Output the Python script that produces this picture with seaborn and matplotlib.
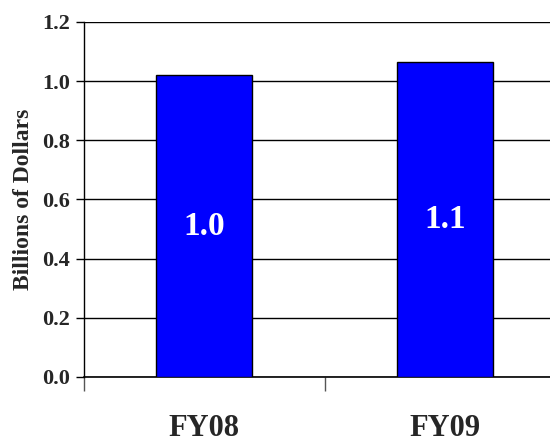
"""
Annual funding bar chart - FY08 vs FY09
"""

import matplotlib
matplotlib.use("Agg")
import matplotlib.pyplot as plt
import pandas as pd
import seaborn as sns

# Data
years = ['FY08', 'FY09']
billions = [1.02, 1.064]
bar_labels = ['1.0', '1.1']
y_ticks = [0.0, 0.2, 0.4, 0.6, 0.8, 1.0, 1.2]

sns.set_style("white")
plt.rcParams['font.family'] = ['Liberation Serif', 'DejaVu Serif']
plt.rcParams['font.weight'] = 'bold'

df = pd.DataFrame({'year': years, 'value': billions})

fig = plt.figure(figsize=(5.5, 4.43), dpi=100)
ax = fig.add_axes([84 / 550, 66 / 443, 481 / 550, 355 / 443])

sns.barplot(data=df, x='year', y='value', color='#0000FF', saturation=1,
            width=0.4, edgecolor='black', linewidth=1, ax=ax, zorder=3)

# bar value labels
for i, (v, lab) in enumerate(zip(billions, bar_labels)):
    ax.text(i, v / 2, lab, ha='center', va='center', color='white',
            fontsize=24, fontweight='bold', zorder=4)

ax.set_xlim(-0.5, 1.5)
ax.set_ylim(0, 1.2)
ax.set_yticks(y_ticks)
ax.set_yticklabels([f'{t:.1f}' for t in y_ticks], fontsize=16, fontweight='bold')
ax.yaxis.grid(True, color='black', linewidth=1)
ax.set_axisbelow(True)

# category labels sit between the boundary ticks
ax.set_xticks([-0.5, 0.5, 1.5])
ax.set_xticklabels(['', '', ''])
ax.set_xticks([0, 1], minor=True)
ax.set_xticklabels(years, minor=True, fontsize=22, fontweight='bold')
ax.tick_params(axis='x', which='minor', bottom=True, length=0, pad=27)
ax.tick_params(axis='x', which='major', bottom=True, length=10,
               color='#555555', width=1)
ax.tick_params(axis='y', left=True, length=6, color='black', width=1, pad=4)

ax.set_xlabel('')
ax.set_ylabel('Billions of Dollars', fontsize=17, fontweight='bold', labelpad=6)

for side in ['top', 'right']:
    ax.spines[side].set_visible(False)
ax.spines['left'].set_color('black')
ax.spines['bottom'].set_color('black')
ax.spines['left'].set_linewidth(1)
ax.spines['bottom'].set_linewidth(1.2)

fig.savefig('out.png', dpi=100)
